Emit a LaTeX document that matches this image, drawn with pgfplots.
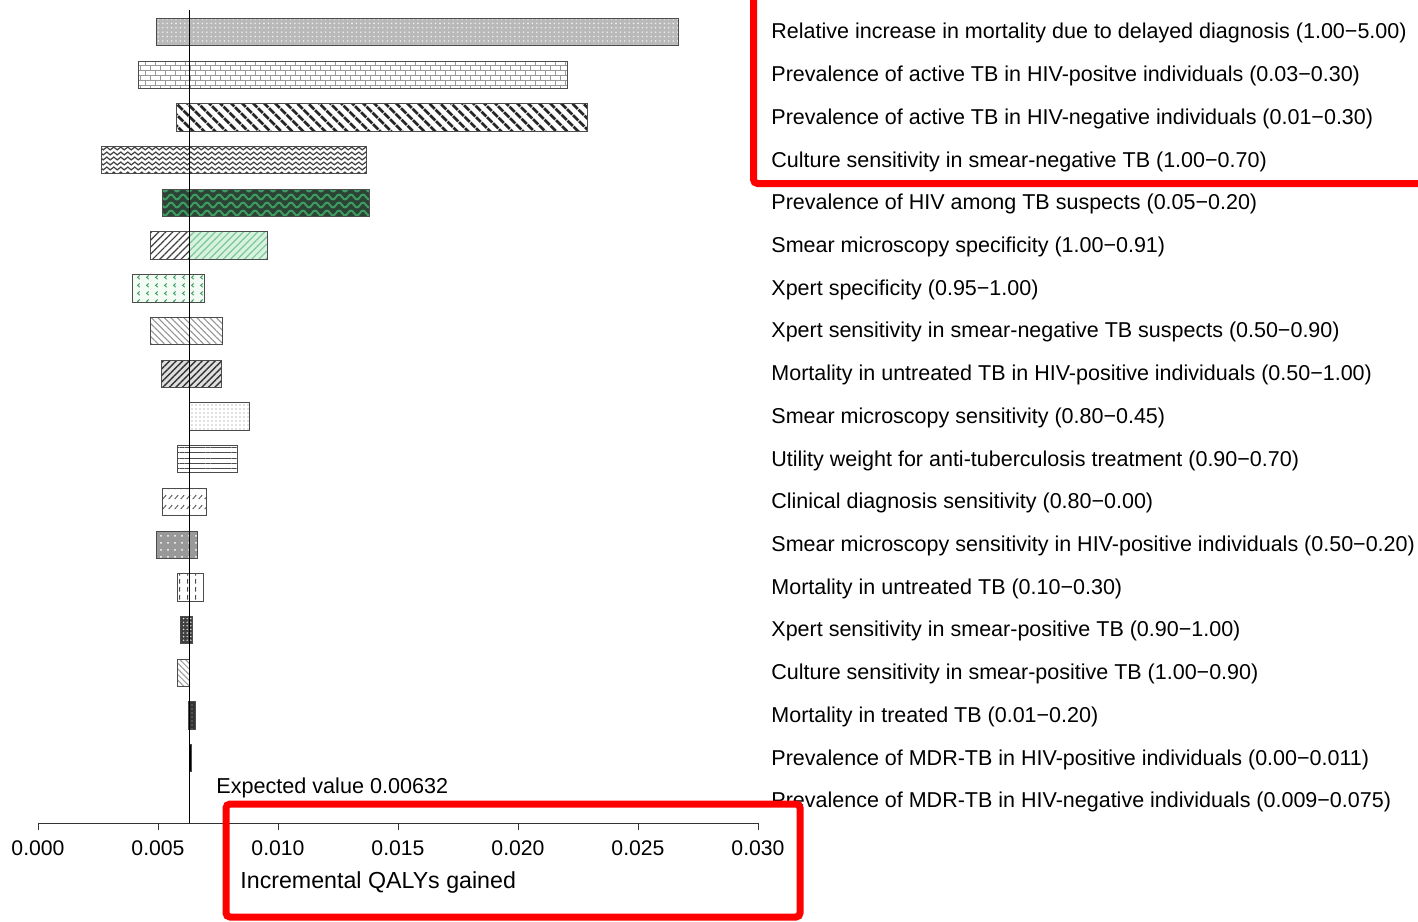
\documentclass[border=0pt]{standalone}
\usepackage{fontspec}
\setmainfont{Liberation Sans}
\usepackage{pgfplots}
\pgfplotsset{compat=1.18}
\usetikzlibrary{patterns,patterns.meta}

\pgfdeclarepatternformonly{smallwaves}{\pgfpoint{-0.5pt}{-0.5pt}}{\pgfpoint{4pt}{3pt}}{\pgfpoint{3.5pt}{2.5pt}}{
  \pgfsetlinewidth{0.6pt}
  \pgfpathmoveto{\pgfpoint{0pt}{1.25pt}}
  \pgfpathcurveto{\pgfpoint{0.6pt}{2.2pt}}{\pgfpoint{1.15pt}{2.2pt}}{\pgfpoint{1.75pt}{1.25pt}}
  \pgfpathcurveto{\pgfpoint{2.35pt}{0.3pt}}{\pgfpoint{2.9pt}{0.3pt}}{\pgfpoint{3.5pt}{1.25pt}}
  \pgfusepath{stroke}
}
\pgfdeclarepatternformonly{bigwaves}{\pgfpoint{-1pt}{-1pt}}{\pgfpoint{7pt}{5pt}}{\pgfpoint{6pt}{4pt}}{
  \pgfsetlinewidth{1pt}
  \pgfpathmoveto{\pgfpoint{0pt}{2pt}}
  \pgfpathcurveto{\pgfpoint{1pt}{3.6pt}}{\pgfpoint{2pt}{3.6pt}}{\pgfpoint{3pt}{2pt}}
  \pgfpathcurveto{\pgfpoint{4pt}{0.4pt}}{\pgfpoint{5pt}{0.4pt}}{\pgfpoint{6pt}{2pt}}
  \pgfusepath{stroke}
}
\pgfdeclarepatternformonly{chevl}{\pgfpoint{0pt}{0pt}}{\pgfpoint{4.5pt}{4pt}}{\pgfpoint{4.5pt}{4pt}}{
  \pgfsetlinewidth{0.5pt}
  \pgfpathmoveto{\pgfpoint{2.6pt}{3pt}}
  \pgfpathlineto{\pgfpoint{1.4pt}{2pt}}
  \pgfpathlineto{\pgfpoint{2.6pt}{1pt}}
  \pgfusepath{stroke}
}
\pgfdeclarepatternformonly{dashdiag}{\pgfpoint{0pt}{0pt}}{\pgfpoint{3pt}{5pt}}{\pgfpoint{3pt}{5pt}}{
  \pgfsetlinewidth{0.5pt}
  \pgfpathmoveto{\pgfpoint{0.4pt}{1pt}}
  \pgfpathlineto{\pgfpoint{2.4pt}{3.2pt}}
  \pgfusepath{stroke}
}
\pgfdeclarepatternformonly{vdash}{\pgfpoint{0pt}{0pt}}{\pgfpoint{4pt}{4pt}}{\pgfpoint{4pt}{4pt}}{
  \pgfsetlinewidth{0.5pt}
  \pgfpathmoveto{\pgfpoint{2pt}{0.8pt}}
  \pgfpathlineto{\pgfpoint{2pt}{3.2pt}}
  \pgfusepath{stroke}
}
\pgfdeclarepatternformonly{smallbricks}{\pgfpoint{-0.3pt}{-0.3pt}}{\pgfpoint{5.3pt}{5.3pt}}{\pgfpoint{5pt}{5pt}}{
  \pgfsetlinewidth{0.5pt}
  \pgfpathmoveto{\pgfpoint{0pt}{0pt}}\pgfpathlineto{\pgfpoint{5pt}{0pt}}
  \pgfpathmoveto{\pgfpoint{0pt}{2.5pt}}\pgfpathlineto{\pgfpoint{5pt}{2.5pt}}
  \pgfpathmoveto{\pgfpoint{0pt}{0pt}}\pgfpathlineto{\pgfpoint{0pt}{2.5pt}}
  \pgfpathmoveto{\pgfpoint{2.5pt}{2.5pt}}\pgfpathlineto{\pgfpoint{2.5pt}{5pt}}
  \pgfusepath{stroke}
}

\definecolor{darkgreen}{HTML}{2B4435}
\definecolor{wavegreen}{HTML}{3E9B62}
\definecolor{lightgreen}{HTML}{D8F2E0}
\definecolor{hatchgreen}{HTML}{7CC796}
\definecolor{palegreen}{HTML}{F2FBF4}

\begin{document}
\begin{tikzpicture}
\useasboundingbox (0,0) rectangle (709pt,-460.5pt);
\begin{axis}[
  at={(19pt,-411.5pt)}, anchor=south west,
  scale only axis, width=360pt, height=406.5pt,
  xmin=0, xmax=0.030, ymin=0.485, ymax=19.515,
  axis x line*=bottom, hide y axis,
  scaled x ticks=false,
  xtick={0,0.005,0.010,0.015,0.020,0.025,0.030},
  xticklabels={0.000,0.005,0.010,0.015,0.020,0.025,0.030},
  tick align=outside, major tick length=3.5pt,
  x axis line style={black!80, line width=0.5pt, -},
  xtick style={black!80, line width=0.5pt},
  tick label style={font=\fontsize{10.6}{12}\selectfont},
  xticklabel style={yshift=-2pt},
  clip=false,
  bar/.style={draw=black!70, line width=0.5pt},
]
% row 1 (y=19)
\addplot[bar, fill=gray!55, postaction={pattern={Dots[distance=2.2pt,radius=0.45pt]}, pattern color=white!85!gray}]
  coordinates {(0.004958,18.68) (0.026667,18.68) (0.026667,19.32) (0.004958,19.32)} -- cycle;
% row 2 (y=18)
\addplot[bar, fill=white, postaction={pattern=smallbricks, pattern color=gray!80}]
  coordinates {(0.004208,17.68) (0.022083,17.68) (0.022083,18.32) (0.004208,18.32)} -- cycle;
% row 3 (y=17)
\addplot[bar, fill=white, postaction={pattern={Lines[angle=-45,distance=4pt,line width=1.5pt]}, pattern color=black!85}]
  coordinates {(0.005750,16.68) (0.022875,16.68) (0.022875,17.32) (0.005750,17.32)} -- cycle;
% row 4 (y=16)
\addplot[bar, fill=white, postaction={pattern=smallwaves, pattern color=black!75}]
  coordinates {(0.002625,15.68) (0.013708,15.68) (0.013708,16.32) (0.002625,16.32)} -- cycle;
% row 5 (y=15)
\addplot[bar, fill=darkgreen, postaction={pattern=bigwaves, pattern color=wavegreen}]
  coordinates {(0.005167,14.68) (0.013792,14.68) (0.013792,15.32) (0.005167,15.32)} -- cycle;
% row 6 (y=14) low side
\addplot[bar, fill=white, postaction={pattern={Lines[angle=45,distance=2.5pt,line width=0.6pt]}, pattern color=black!75}]
  coordinates {(0.004708,13.68) (0.00632,13.68) (0.00632,14.32) (0.004708,14.32)} -- cycle;
% row 6 high side
\addplot[bar, fill=lightgreen, postaction={pattern={Lines[angle=45,distance=2.5pt,line width=0.6pt]}, pattern color=hatchgreen}]
  coordinates {(0.00632,13.68) (0.009542,13.68) (0.009542,14.32) (0.00632,14.32)} -- cycle;
% row 7 (y=13)
\addplot[bar, fill=palegreen, postaction={pattern=chevl, pattern color=wavegreen}]
  coordinates {(0.003917,12.68) (0.006917,12.68) (0.006917,13.32) (0.003917,13.32)} -- cycle;
% row 8 (y=12)
\addplot[bar, fill=white, postaction={pattern={Lines[angle=-45,distance=2.3pt,line width=0.5pt]}, pattern color=gray!85}]
  coordinates {(0.004667,11.68) (0.007667,11.68) (0.007667,12.32) (0.004667,12.32)} -- cycle;
% row 9 (y=11)
\addplot[bar, fill=gray!25, postaction={pattern={Lines[angle=45,distance=2.3pt,line width=0.7pt]}, pattern color=black!80}]
  coordinates {(0.005125,10.68) (0.007625,10.68) (0.007625,11.32) (0.005125,11.32)} -- cycle;
% row 10 (y=10)
\addplot[bar, fill=white, postaction={pattern={Dots[distance=2pt,radius=0.35pt]}, pattern color=gray}]
  coordinates {(0.00632,9.68) (0.008833,9.68) (0.008833,10.32) (0.00632,10.32)} -- cycle;
% row 11 (y=9)
\addplot[bar, fill=white, postaction={pattern={Lines[angle=0,distance=2.6pt,line width=0.5pt]}, pattern color=black!70}]
  coordinates {(0.005833,8.68) (0.008292,8.68) (0.008292,9.32) (0.005833,9.32)} -- cycle;
% row 12 (y=8)
\addplot[bar, fill=white, postaction={pattern=dashdiag, pattern color=black!65}]
  coordinates {(0.005208,7.68) (0.007000,7.68) (0.007000,8.32) (0.005208,8.32)} -- cycle;
% row 13 (y=7)
\addplot[bar, fill=gray!80, postaction={pattern={Dots[distance=3.5pt,radius=0.5pt]}, pattern color=white}]
  coordinates {(0.004917,6.68) (0.006625,6.68) (0.006625,7.32) (0.004917,7.32)} -- cycle;
% row 14 (y=6)
\addplot[bar, fill=white, postaction={pattern=vdash, pattern color=black!70}]
  coordinates {(0.005792,5.68) (0.006875,5.68) (0.006875,6.32) (0.005792,6.32)} -- cycle;
% row 15 (y=5)
\addplot[bar, fill=gray!50!black, postaction={pattern={Dots[distance=1.8pt,radius=0.4pt]}, pattern color=white!80!gray}]
  coordinates {(0.005917,4.68) (0.006458,4.68) (0.006458,5.32) (0.005917,5.32)} -- cycle;
% row 16 (y=4)
\addplot[bar, fill=white, postaction={pattern={Lines[angle=-45,distance=2pt,line width=0.5pt]}, pattern color=gray!80}]
  coordinates {(0.005833,3.68) (0.006292,3.68) (0.006292,4.32) (0.005833,4.32)} -- cycle;
% row 17 (y=3)
\addplot[bar, fill=black!80, postaction={pattern={Dots[distance=2pt,radius=0.3pt]}, pattern color=gray!60}]
  coordinates {(0.006250,2.68) (0.006583,2.68) (0.006583,3.32) (0.006250,3.32)} -- cycle;
% row 18 (y=2)
\addplot[bar, fill=black]
  coordinates {(0.00630,1.68) (0.00638,1.68) (0.00638,2.32) (0.00630,2.32)} -- cycle;
% expected value line
\addplot[black, line width=0.6pt] coordinates {(0.00632,0.485) (0.00632,19.515)};

\node[anchor=west, inner sep=0pt, font=\fontsize{10.8}{12}\selectfont] at (axis cs:0.0074167,1.31) {Expected value 0.00632};

\begin{scope}[every node/.style={anchor=west, inner sep=0pt, font=\fontsize{10.75}{12}\selectfont}]
\node at (axis cs:0.030542,18.97) {Relative increase in mortality due to delayed diagnosis (1.00−5.00)};
\node at (axis cs:0.030542,17.97) {Prevalence of active TB in HIV-positve individuals (0.03−0.30)};
\node at (axis cs:0.030542,16.97) {Prevalence of active TB in HIV-negative individuals (0.01−0.30)};
\node at (axis cs:0.030542,15.97) {Culture sensitivity in smear-negative TB (1.00−0.70)};
\node at (axis cs:0.030542,14.97) {Prevalence of HIV among TB suspects (0.05−0.20)};
\node at (axis cs:0.030542,13.97) {Smear microscopy specificity (1.00−0.91)};
\node at (axis cs:0.030542,12.97) {Xpert specificity (0.95−1.00)};
\node at (axis cs:0.030542,11.97) {Xpert sensitivity in smear-negative TB suspects (0.50−0.90)};
\node at (axis cs:0.030542,10.97) {Mortality in untreated TB in HIV-positive individuals (0.50−1.00)};
\node at (axis cs:0.030542,9.97) {Smear microscopy sensitivity (0.80−0.45)};
\node at (axis cs:0.030542,8.97) {Utility weight for anti-tuberculosis treatment (0.90−0.70)};
\node at (axis cs:0.030542,7.97) {Clinical diagnosis sensitivity (0.80−0.00)};
\node at (axis cs:0.030542,6.97) {Smear microscopy sensitivity in HIV-positive individuals (0.50−0.20)};
\node at (axis cs:0.030542,5.97) {Mortality in untreated TB (0.10−0.30)};
\node at (axis cs:0.030542,4.97) {Xpert sensitivity in smear-positive TB (0.90−1.00)};
\node at (axis cs:0.030542,3.97) {Culture sensitivity in smear-positive TB (1.00−0.90)};
\node at (axis cs:0.030542,2.97) {Mortality in treated TB (0.01−0.20)};
\node at (axis cs:0.030542,1.97) {Prevalence of MDR-TB in HIV-positive individuals (0.00−0.011)};
\node at (axis cs:0.030542,0.97) {Prevalence of MDR-TB in HIV-negative individuals (0.009−0.075)};
\end{scope}
\end{axis}
\node[anchor=west, inner sep=0pt, font=\fontsize{11.6}{13}\selectfont] at (120pt,-441pt) {Incremental QALYs gained};
\draw[red, line width=3.5pt, rounded corners=2pt] (376.75pt,5pt) rectangle (715pt,-91.75pt);
\draw[red, line width=3.5pt, rounded corners=2pt] (113pt,-402pt) rectangle (400pt,-458.5pt);
\end{tikzpicture}
\end{document}
